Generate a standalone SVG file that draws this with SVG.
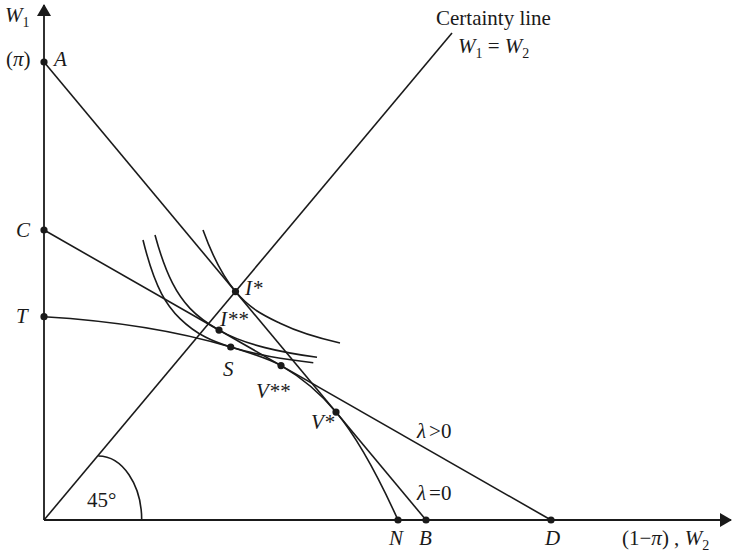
<svg xmlns="http://www.w3.org/2000/svg" width="733" height="555" viewBox="0 0 733 555">
<style>
.ax{stroke:#1a1a1a;stroke-width:1.8;fill:none}
.ln{stroke:#1a1a1a;stroke-width:1.6;fill:none}
.dot{fill:#1a1a1a}
text{font-family:"Liberation Serif","Times New Roman",serif;font-size:21px;fill:#1a1a1a}
.it{font-style:italic}
.sub{font-size:14px;font-style:normal}
</style>
<defs>
<marker id="arr" viewBox="0 0 12 14" refX="11" refY="7" markerWidth="12" markerHeight="14" markerUnits="userSpaceOnUse" orient="auto">
<path d="M0 0 L12 7 L0 14 Z" fill="#1a1a1a"/>
</marker>
</defs>
<rect width="733" height="555" fill="#fff"/>
<g id="axes">
<line class="ax" x1="44" y1="520" x2="44" y2="5" marker-end="url(#arr)"/>
<line class="ax" x1="44" y1="520" x2="731" y2="520" marker-end="url(#arr)"/>
</g>
<g id="connectors">
<line id="certainty" class="ln" x1="44" y1="520" x2="452" y2="33"/>
<line id="AB" class="ln" x1="44" y1="62" x2="426" y2="520"/>
<line id="CD" class="ln" x1="44" y1="230" x2="551" y2="520"/>
<path id="TN" class="ln" d="M44 316.7 C106.2 320.4 168.5 328.3 230.7 347 C243.3 350.8 268.4 358.4 281 365.6 C299.3 376.1 317.7 390.1 336 412.1 C356.7 436.9 377.3 474.5 398 520"/>
<path id="IC1" class="ln" d="M203 230 C213.8 260 224.7 278.6 235.5 291.6 C250.3 309.4 265.2 316.1 280 323.3 C300 333 320 338.5 340 343"/>
<path id="IC2" class="ln" d="M155 235 C166.7 278 178.3 295.9 190 308.4 C199.7 318.7 209.3 324.6 219 330.1 C234.3 338.9 249.7 343.7 265 347.6 C282.3 352 299.7 354.9 317 357.3"/>
<path id="IC3" class="ln" d="M143 240 C155.3 290 167.7 306.6 180 318.6 C196.9 335.1 213.8 341.9 230.7 347 C243.8 350.9 256.9 354.1 270 356.5 C284.4 359.1 298.9 361.1 313.3 362.7"/>
<path id="angle45" class="ln" d="M98.3 456 A43.4 64 0 0 1 141.7 520"/>
</g>
<g id="axis-labels">
<text x="5" y="22"><tspan class="it">W</tspan><tspan class="sub" dy="5">1</tspan></text>
<text x="622" y="545">(1−<tspan class="it">π</tspan>) , <tspan class="it">W</tspan><tspan class="sub" dy="5">2</tspan></text>
<text x="436" y="25">Certainty line</text>
<text x="458" y="53"><tspan class="it">W</tspan><tspan class="sub" dy="5">1</tspan><tspan dy="-5"> = </tspan><tspan class="it">W</tspan><tspan class="sub" dy="5">2</tspan></text>
<text x="87" y="507">45°</text>
<text class="it" x="417" y="438">λ<tspan font-style="normal" dx="3">&gt;0</tspan></text>
<text class="it" x="417" y="500">λ<tspan font-style="normal" dx="3">=0</tspan></text>
</g>
<g id="node-A"><circle class="dot" cx="44" cy="62" r="3.6"/><text x="6" y="66">(<tspan class="it">π</tspan>)</text><text class="it" x="54" y="66">A</text></g>
<g id="node-C"><circle class="dot" cx="44" cy="230" r="3.6"/><text class="it" x="16" y="237">C</text></g>
<g id="node-T"><circle class="dot" cx="44" cy="316.7" r="3.6"/><text class="it" x="16" y="323">T</text></g>
<g id="node-N"><circle class="dot" cx="398" cy="520" r="3.6"/><text class="it" x="389" y="545">N</text></g>
<g id="node-B"><circle class="dot" cx="426" cy="520" r="3.6"/><text class="it" x="419" y="545">B</text></g>
<g id="node-D"><circle class="dot" cx="551" cy="520" r="3.6"/><text class="it" x="545" y="545">D</text></g>
<g id="node-Istar"><circle class="dot" cx="235.5" cy="291.6" r="3.6"/><text class="it" x="245" y="295">I*</text></g>
<g id="node-Istar2"><circle class="dot" cx="219" cy="330.1" r="3.6"/><text class="it" x="220" y="326">I**</text></g>
<g id="node-S"><circle class="dot" cx="230.7" cy="347" r="3.6"/><text class="it" x="223" y="376">S</text></g>
<g id="node-Vstar2"><circle class="dot" cx="281" cy="365.6" r="3.6"/><text class="it" x="256" y="398">V**</text></g>
<g id="node-Vstar"><circle class="dot" cx="336" cy="412.1" r="3.6"/><text class="it" x="311" y="429">V*</text></g>
</svg>
